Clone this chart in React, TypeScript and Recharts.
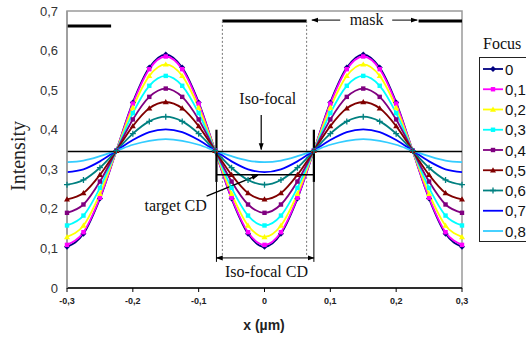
import {
  Label,
  Line,
  LineChart,
  ReferenceArea,
  ReferenceDot,
  ReferenceLine,
  XAxis,
  YAxis,
} from "recharts";

// x positions (µm)
const xs = [
  -0.3, -0.275, -0.25, -0.225, -0.2, -0.175, -0.15, -0.125, -0.1, -0.075, -0.05, -0.025, 0,
  0.025, 0.05, 0.075, 0.1, 0.125, 0.15, 0.175, 0.2, 0.225, 0.25, 0.275, 0.3,
];

// intensity per focus value
const focus0 = [0.104, 0.137, 0.226, 0.347, 0.469, 0.557, 0.59, 0.557, 0.469, 0.347, 0.226, 0.137, 0.104, 0.137, 0.226, 0.347, 0.469, 0.557, 0.59, 0.557, 0.469, 0.347, 0.226, 0.137, 0.104];
const focus1 = [0.109, 0.141, 0.228, 0.347, 0.466, 0.553, 0.585, 0.553, 0.466, 0.347, 0.228, 0.141, 0.109, 0.141, 0.228, 0.347, 0.466, 0.553, 0.585, 0.553, 0.466, 0.347, 0.228, 0.141, 0.109];
const focus2 = [0.129, 0.158, 0.238, 0.347, 0.456, 0.536, 0.565, 0.536, 0.456, 0.347, 0.238, 0.158, 0.129, 0.158, 0.238, 0.347, 0.456, 0.536, 0.565, 0.536, 0.456, 0.347, 0.238, 0.158, 0.129];
const focus3 = [0.158, 0.183, 0.253, 0.347, 0.442, 0.511, 0.536, 0.511, 0.442, 0.347, 0.253, 0.183, 0.158, 0.183, 0.253, 0.347, 0.442, 0.511, 0.536, 0.511, 0.442, 0.347, 0.253, 0.183, 0.158];
const focus4 = [0.19, 0.211, 0.269, 0.347, 0.426, 0.483, 0.504, 0.483, 0.426, 0.347, 0.269, 0.211, 0.19, 0.211, 0.269, 0.347, 0.426, 0.483, 0.504, 0.483, 0.426, 0.347, 0.269, 0.211, 0.19];
const focus5 = [0.224, 0.24, 0.286, 0.347, 0.409, 0.454, 0.47, 0.454, 0.409, 0.347, 0.286, 0.24, 0.224, 0.24, 0.286, 0.347, 0.409, 0.454, 0.47, 0.454, 0.409, 0.347, 0.286, 0.24, 0.224];
const focus6 = [0.261, 0.273, 0.304, 0.347, 0.39, 0.421, 0.433, 0.421, 0.39, 0.347, 0.304, 0.273, 0.261, 0.273, 0.304, 0.347, 0.39, 0.421, 0.433, 0.421, 0.39, 0.347, 0.304, 0.273, 0.261];
const focus7 = [0.293, 0.3, 0.32, 0.347, 0.374, 0.394, 0.401, 0.394, 0.374, 0.347, 0.32, 0.3, 0.293, 0.3, 0.32, 0.347, 0.374, 0.394, 0.401, 0.394, 0.374, 0.347, 0.32, 0.3, 0.293];
const focus8 = [0.318, 0.322, 0.333, 0.347, 0.362, 0.372, 0.376, 0.372, 0.362, 0.347, 0.333, 0.322, 0.318, 0.322, 0.333, 0.347, 0.362, 0.372, 0.376, 0.372, 0.362, 0.347, 0.333, 0.322, 0.318];

const xTicks = [-0.3, -0.2, -0.1, 0, 0.1, 0.2, 0.3];
const yTicks = [0, 0.1, 0.2, 0.3, 0.4, 0.5, 0.6, 0.7];

type Shape = "diamond" | "square" | "triangle" | "plus" | null;

const series: { key: string; name: string; values: number[]; color: string; shape: Shape }[] = [
  { key: "f0", name: "0", values: focus0, color: "#000080", shape: "diamond" },
  { key: "f1", name: "0,1", values: focus1, color: "#FF00FF", shape: "square" },
  { key: "f2", name: "0,2", values: focus2, color: "#FFFF00", shape: "triangle" },
  { key: "f3", name: "0,3", values: focus3, color: "#00FFFF", shape: "square" },
  { key: "f4", name: "0,4", values: focus4, color: "#800080", shape: "square" },
  { key: "f5", name: "0,5", values: focus5, color: "#800000", shape: "triangle" },
  { key: "f6", name: "0,6", values: focus6, color: "#008080", shape: "plus" },
  { key: "f7", name: "0,7", values: focus7, color: "#0000FF", shape: null },
  { key: "f8", name: "0,8", values: focus8, color: "#33CCFF", shape: null },
];

const data = xs.map((x, i) => {
  const row: Record<string, number> = { x };
  series.forEach((s) => {
    row[s.key] = s.values[i];
  });
  return row;
});

const comma = (v: number) => String(v).replace(".", ",");
const serif = "'Liberation Serif', 'Times New Roman', serif";
const sans = "'Liberation Sans', Arial, sans-serif";

function marker(shape: Shape, color: string, cx: number, cy: number, key?: number) {
  const s = 2.2;
  if (shape === "diamond")
    return <path key={key} d={`M${cx} ${cy - 3}L${cx + 3} ${cy}L${cx} ${cy + 3}L${cx - 3} ${cy}Z`} fill={color} />;
  if (shape === "square")
    return <rect key={key} x={cx - s} y={cy - s} width={2 * s} height={2 * s} fill={color} />;
  if (shape === "triangle")
    return <path key={key} d={`M${cx} ${cy - 3}L${cx + 3} ${cy + 2.2}L${cx - 3} ${cy + 2.2}Z`} fill={color} />;
  if (shape === "plus")
    return <path key={key} d={`M${cx - 3} ${cy}H${cx + 3}M${cx} ${cy - 3}V${cy + 3}`} stroke={color} strokeWidth={1.3} />;
  return <g key={key} />;
}

function dotFor(shape: Shape, color: string) {
  if (!shape) return false;
  return (p: any) => marker(shape, color, p.cx, p.cy, p.index);
}

function TextAt({ x, y, text, size = 16 }: { x: number; y: number; text: string; size?: number }) {
  return (
    <ReferenceDot
      x={x}
      y={y}
      r={0}
      stroke="none"
      label={{ value: text, position: "center", fill: "#111", fontSize: size, fontFamily: serif }}
    />
  );
}

function FocusLegend() {
  return (
    <div style={{ position: "absolute", left: 479, top: 35 }}>
      <div style={{ fontFamily: serif, fontSize: 16, color: "#111", marginLeft: 4, height: 22 }}>Focus</div>
      <div style={{ width: 60, height: 183, border: "1.5px solid #222" }}>
        <svg width={60} height={183}>
          {series.map((s, i) => {
            const cy = 11 + i * 20.25;
            return (
              <g key={s.key}>
                <line x1={3} x2={23} y1={cy} y2={cy} stroke={s.color} strokeWidth={1.8} />
                {marker(s.shape, s.color, 13, cy)}
                <text x={25} y={cy} dominantBaseline="central" fontFamily={sans} fontSize={15} fill="#111">
                  {s.name}
                </text>
              </g>
            );
          })}
        </svg>
      </div>
    </div>
  );
}

export default function App() {
  return (
    <div style={{ position: "absolute", left: 0, top: 0, width: 526, height: 340, background: "#fff" }}>
      <svg width={0} height={0} style={{ position: "absolute" }}>
        <defs>
          <marker id="arr" viewBox="0 0 10 10" refX="9" refY="5" markerWidth="7" markerHeight="7" orient="auto-start-reverse" markerUnits="userSpaceOnUse">
            <path d="M0 1.5L10 5L0 8.5Z" fill="#000" />
          </marker>
        </defs>
      </svg>
      <LineChart width={526} height={340} data={data} margin={{ top: 11, right: 64, bottom: 22, left: 7 }}>
        <ReferenceArea x1={-0.3} x2={0.3} y1={0} y2={0.7} fill="none" stroke="#9a9a9a" strokeWidth={1.5} />
        <XAxis
          dataKey="x"
          type="number"
          domain={[-0.3, 0.3]}
          ticks={xTicks}
          tickFormatter={comma}
          height={30}
          axisLine={{ stroke: "#000", strokeWidth: 1.5 }}
          tickLine={{ stroke: "#000" }}
          tickSize={4}
          tickMargin={6}
          tick={{ fill: "#222", fontSize: 9, fontWeight: "bold", fontFamily: sans }}
        >
          <Label
            content={() => (
              <text x={264} y={325} textAnchor="middle" dominantBaseline="central" fontFamily={sans} fontSize={14} fontWeight="bold" fill="#222">
                x (µm)
              </text>
            )}
          />
        </XAxis>
        <YAxis
          type="number"
          domain={[0, 0.7]}
          ticks={yTicks}
          tickFormatter={comma}
          width={60}
          axisLine={{ stroke: "#9a9a9a", strokeWidth: 1.5 }}
          tickLine={false}
          tickMargin={3}
          tick={{ fill: "#333", fontSize: 13, fontFamily: sans }}
        >
          <Label
            content={() => (
              <text x={18} y={156} transform="rotate(-90 18 156)" textAnchor="middle" dominantBaseline="central" fontFamily={serif} fontSize={20} fill="#222">
                Intensity
              </text>
            )}
          />
        </YAxis>

        {/* mask bars */}
        <ReferenceLine segment={[{ x: -0.3, y: 0.662 }, { x: -0.233, y: 0.662 }]} stroke="#000" strokeWidth={3} />
        <ReferenceLine segment={[{ x: -0.064, y: 0.675 }, { x: 0.064, y: 0.675 }]} stroke="#000" strokeWidth={3} />
        <ReferenceLine segment={[{ x: 0.234, y: 0.675 }, { x: 0.3, y: 0.675 }]} stroke="#000" strokeWidth={3} />
        <ReferenceLine segment={[{ x: -0.064, y: 0.675 }, { x: -0.064, y: 0.08 }]} stroke="#777" strokeDasharray="2 2" />
        <ReferenceLine segment={[{ x: 0.064, y: 0.675 }, { x: 0.064, y: 0.08 }]} stroke="#777" strokeDasharray="2 2" />
        <ReferenceLine segment={[{ x: 0.115, y: 0.677 }, { x: 0.072, y: 0.677 }]} stroke="#000" markerEnd="url(#arr)" />
        <ReferenceLine segment={[{ x: 0.194, y: 0.677 }, { x: 0.232, y: 0.677 }]} stroke="#000" markerEnd="url(#arr)" />
        <TextAt x={0.155} y={0.679} text="mask" />

        {series.map((s) => (
          <Line
            key={s.key}
            dataKey={s.key}
            name={s.name}
            type="monotone"
            stroke={s.color}
            strokeWidth={1.8}
            dot={dotFor(s.shape, s.color)}
            activeDot={false}
            isAnimationActive={false}
          />
        ))}

        {/* iso-focal annotations */}
        <ReferenceLine y={0.345} stroke="#000" strokeWidth={1.5} />
        <TextAt x={0.005} y={0.48} text="Iso-focal" />
        <ReferenceLine segment={[{ x: -0.005, y: 0.437 }, { x: -0.005, y: 0.35 }]} stroke="#000" strokeWidth={1.2} markerEnd="url(#arr)" />
        <ReferenceLine segment={[{ x: -0.073, y: 0.4 }, { x: -0.073, y: 0.268 }]} stroke="#000" strokeWidth={2.2} />
        <ReferenceLine segment={[{ x: 0.075, y: 0.4 }, { x: 0.075, y: 0.268 }]} stroke="#000" strokeWidth={2.2} />
        <ReferenceLine segment={[{ x: -0.073, y: 0.268 }, { x: -0.073, y: 0.066 }]} stroke="#000" />
        <ReferenceLine segment={[{ x: 0.075, y: 0.268 }, { x: 0.075, y: 0.066 }]} stroke="#000" />
        <ReferenceLine segment={[{ x: -0.073, y: 0.286 }, { x: 0.075, y: 0.286 }]} stroke="#000" strokeWidth={1.5} />
        <ReferenceLine segment={[{ x: -0.088, y: 0.232 }, { x: -0.01, y: 0.285 }]} stroke="#000" strokeWidth={1.3} markerEnd="url(#arr)" />
        <TextAt x={-0.135} y={0.21} text="target CD" />
        <ReferenceLine segment={[{ x: -0.073, y: 0.076 }, { x: 0.075, y: 0.076 }]} stroke="#000" markerStart="url(#arr)" markerEnd="url(#arr)" />
        <TextAt x={0.003} y={0.043} text="Iso-focal CD" />
      </LineChart>
      <FocusLegend />
    </div>
  );
}
